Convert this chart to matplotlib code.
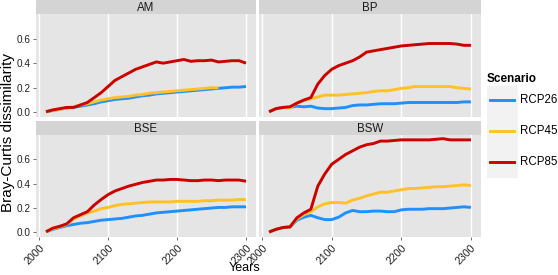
import numpy as np
import matplotlib
matplotlib.use("Agg")
import matplotlib.pyplot as plt
from matplotlib.patches import Rectangle

plt.rcParams["font.family"] = ["Liberation Sans", "DejaVu Sans"]

years = list(range(2010, 2301, 10))
panels = ["AM", "BP", "BSE", "BSW"]
scenarios = ["RCP26", "RCP45", "RCP85"]
colors = {"RCP26": "#1E90FF", "RCP45": "#FFC125", "RCP85": "#CD0000"}

am_26 = [0.005, 0.015, 0.025, 0.035, 0.04, 0.05, 0.06, 0.07, 0.085, 0.095, 0.105, 0.11, 0.115, 0.125, 0.135,
         0.14, 0.15, 0.155, 0.16, 0.165, 0.17, 0.175, 0.18, 0.185, 0.19, 0.195, 0.2, 0.205, 0.205, 0.21]
am_45 = [0.005, 0.015, 0.025, 0.035, 0.045, 0.06, 0.07, 0.085, 0.10, 0.11, 0.12, 0.125, 0.13, 0.14, 0.145,
         0.155, 0.16, 0.165, 0.17, 0.175, 0.18, 0.185, 0.19, 0.195, 0.20, 0.20]
am_85 = [0.005, 0.02, 0.03, 0.04, 0.04, 0.06, 0.08, 0.12, 0.16, 0.21, 0.26, 0.29, 0.32, 0.35, 0.37,
         0.39, 0.41, 0.40, 0.41, 0.42, 0.43, 0.415, 0.42, 0.42, 0.425, 0.41, 0.415, 0.42, 0.42, 0.40]

bp_26 = [0.005, 0.03, 0.04, 0.04, 0.05, 0.045, 0.05, 0.035, 0.03, 0.03, 0.035, 0.04, 0.055, 0.06, 0.06,
         0.065, 0.07, 0.07, 0.07, 0.075, 0.08, 0.08, 0.08, 0.08, 0.08, 0.08, 0.08, 0.08, 0.085, 0.085]
bp_45 = [0.005, 0.03, 0.04, 0.035, 0.075, 0.095, 0.11, 0.125, 0.14, 0.14, 0.14, 0.145, 0.15, 0.155, 0.16,
         0.17, 0.175, 0.175, 0.185, 0.195, 0.2, 0.21, 0.21, 0.21, 0.21, 0.21, 0.21, 0.2, 0.195, 0.19]
bp_85 = [0.005, 0.03, 0.04, 0.045, 0.075, 0.10, 0.12, 0.23, 0.30, 0.35, 0.38, 0.40, 0.42, 0.45, 0.49,
         0.50, 0.51, 0.52, 0.53, 0.54, 0.545, 0.55, 0.555, 0.56, 0.56, 0.56, 0.56, 0.555, 0.545, 0.545]

bse_26 = [0.005, 0.025, 0.04, 0.055, 0.065, 0.075, 0.08, 0.09, 0.10, 0.105, 0.11, 0.115, 0.125, 0.135, 0.14,
          0.15, 0.16, 0.165, 0.17, 0.175, 0.18, 0.185, 0.19, 0.195, 0.2, 0.205, 0.205, 0.21, 0.21, 0.21]
bse_45 = [0.005, 0.03, 0.045, 0.065, 0.11, 0.135, 0.16, 0.175, 0.195, 0.205, 0.22, 0.23, 0.235, 0.24, 0.245,
          0.25, 0.25, 0.25, 0.25, 0.255, 0.255, 0.255, 0.255, 0.26, 0.26, 0.265, 0.265, 0.265, 0.27, 0.27]
bse_85 = [0.005, 0.035, 0.05, 0.07, 0.12, 0.145, 0.17, 0.225, 0.27, 0.31, 0.34, 0.36, 0.38, 0.395, 0.41,
          0.42, 0.43, 0.43, 0.435, 0.435, 0.43, 0.425, 0.425, 0.43, 0.43, 0.425, 0.43, 0.43, 0.43, 0.42]

bsw_26 = [0.003, 0.025, 0.04, 0.045, 0.10, 0.125, 0.14, 0.12, 0.105, 0.105, 0.125, 0.16, 0.18, 0.17, 0.17,
          0.175, 0.175, 0.17, 0.17, 0.185, 0.19, 0.19, 0.19, 0.195, 0.195, 0.195, 0.2, 0.205, 0.21, 0.205]
bsw_45 = [0.003, 0.025, 0.04, 0.045, 0.11, 0.145, 0.17, 0.21, 0.235, 0.245, 0.245, 0.24, 0.265, 0.28, 0.30,
          0.315, 0.33, 0.33, 0.34, 0.35, 0.36, 0.36, 0.365, 0.37, 0.375, 0.375, 0.38, 0.385, 0.39, 0.385]
bsw_85 = [0.003, 0.025, 0.04, 0.045, 0.12, 0.16, 0.19, 0.38, 0.48, 0.56, 0.60, 0.64, 0.67, 0.70, 0.72,
          0.73, 0.75, 0.75, 0.755, 0.76, 0.76, 0.76, 0.76, 0.76, 0.765, 0.77, 0.76, 0.76, 0.76, 0.76]

data = {
    "AM": {"RCP26": am_26, "RCP45": am_45, "RCP85": am_85},
    "BP": {"RCP26": bp_26, "RCP45": bp_45, "RCP85": bp_85},
    "BSE": {"RCP26": bse_26, "RCP45": bse_45, "RCP85": bse_85},
    "BSW": {"RCP26": bsw_26, "RCP45": bsw_45, "RCP85": bsw_85},
}

xticks = [2000, 2100, 2200, 2300]
yticks = [0.0, 0.2, 0.4, 0.6]
ytick_labels = ["0.0", "0.2", "0.4", "0.6"]

W, H = 558, 275
fig = plt.figure(figsize=(W / 100, H / 100), dpi=100)
fig.patch.set_facecolor("white")

def fx(px):
    return px / W

def fy(py):
    return 1 - py / H

cols = [(36, 256), (259, 481)]
rows = [(0, 14, 117), (121, 135, 237)]  # strip top, panel top, panel bottom

for i, name in enumerate(panels):
    r, c = divmod(i, 2)
    x0, x1 = cols[c]
    st, pt, pb = rows[r]
    ax = fig.add_axes([fx(x0), fy(pb), fx(x1 - x0), fy(pt) - fy(pb)])
    ax.set_facecolor("#E5E5E5")
    for s in ax.spines.values():
        s.set_visible(False)
    ax.set_xlim(1995.5, 2314.5)
    ax.set_ylim(-0.038, 0.80)
    for xv in xticks:
        ax.axvline(xv, color="white", lw=1.0, zorder=1)
    for sc in scenarios:
        vals = data[name][sc]
        ax.plot(years[:len(vals)], vals, color=colors[sc], lw=2.1,
                solid_capstyle="butt", zorder=3)
    ax.set_xticks(xticks)
    ax.set_yticks(yticks)
    ax.tick_params(length=2.5, width=0.6, color="#555555", labelsize=7, pad=1.5)
    if c == 0:
        ax.set_yticklabels(ytick_labels, color="#222222", fontsize=7.2)
    else:
        ax.tick_params(axis="y", length=0, labelleft=False)
    if r == 1:
        ax.set_xticklabels([str(v) for v in xticks], rotation=45, ha="right",
                           rotation_mode="anchor", color="#222222", fontsize=7.7)
    else:
        ax.tick_params(axis="x", length=0, labelbottom=False)
    # strip
    sax = fig.add_axes([fx(x0), fy(pt), fx(x1 - x0), fy(st) - fy(pt)])
    sax.set_facecolor("#D4D4D4")
    sax.set_xticks([]); sax.set_yticks([])
    for s in sax.spines.values():
        s.set_visible(False)
    sax.text(0.5, 0.45, name, ha="center", va="center", fontsize=8.3, color="#1A1A1A",
             transform=sax.transAxes)

fig.text(fx(245), fy(268), "Years", ha="center", va="center", fontsize=9)
fig.text(fx(8), fy(133), "Bray-Curtis dissimilarity", ha="center", va="center",
         rotation=90, fontsize=11)

# legend
fig.patches.append(Rectangle((fx(487), fy(178)), fx(31), fy(86) - fy(178),
                             transform=fig.transFigure, facecolor="#F2F2F2",
                             edgecolor="none", zorder=0))
fig.text(fx(487), fy(79), "Scenario", ha="left", va="center", fontsize=8.5, fontweight="bold")
for k, sc in enumerate(scenarios):
    yy = fy(100 + 31 * k)
    fig.lines.append(plt.Line2D([fx(490), fx(514)], [yy, yy], transform=fig.transFigure,
                                color=colors[sc], lw=2.1))
    fig.text(fx(520), yy, sc, ha="left", va="center", fontsize=8.3)

fig.savefig("out.png", dpi=100)
